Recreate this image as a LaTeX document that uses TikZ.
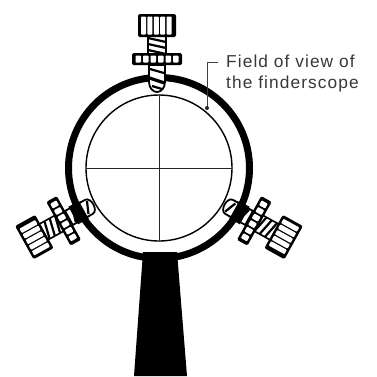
\documentclass[tikz,border=0pt]{standalone}
\usepackage{fontspec}
\setmainfont{Liberation Sans}
\tikzset{
  ringline/.style={draw=black,line width=7pt},
  thinline/.style={draw=black,line width=1.4pt},
  hair/.style={draw=black!85,line width=1pt},
  label/.style={inner sep=0pt,anchor=west,text=black!78,font=\fontsize{17.3}{20}\selectfont\addfontfeature{LetterSpace=6.3}},
  leader/.style={draw=black!75,line width=1pt},
  slot/.style={fill=white,rounded corners=0.8pt},
  thread/.style={draw=black,line width=2.2pt},
}
\newcommand{\thumbscrew}{%
  % lower shaft with rounded tip
  \path[fill=white,draw=black,line width=1.8pt] (-8,-103) -- (-8,-86) .. controls (-8,-80) and (-4,-76) .. (0,-76) .. controls (4,-76) and (8,-80) .. (8,-86) -- (8,-103) -- cycle;
  \draw[thread] (-7,-99) -- (7,-95);
  \draw[thread,line width=3.2pt] (-7.5,-90) -- (7.5,-85);
  \draw[thread] (-5,-82) -- (5,-79);
  % upper shaft
  \path[fill=white,draw=black,line width=1.6pt] (-9,-134) rectangle (9,-113);
  \draw[thread] (-9,-130) -- (9,-126);
  \draw[thread] (-9,-124) -- (9,-120);
  \draw[thread] (-9,-118) -- (9,-114);
  % collar
  \fill[black,rounded corners=1.5pt] (-25,-115) rectangle (25,-103);
  \foreach \x in {-21.5,-14,-6.5,1,8.5,16} {\path[slot] (\x,-112.5) rectangle ++(5.5,7);}
  % knob
  \fill[black,rounded corners=2pt] (-19,-154) rectangle (19,-131);
  \foreach \x in {-16,-9.6,-3.2,3.2,9.6} {\path[slot] (\x,-151.5) rectangle ++(5,18);}
}
\newcommand{\sideband}{%
  \fill[black] (-10,-98) rectangle (10,-86);
  \path[fill=white,draw=black,line width=1.8pt] (-8,-87) -- (-8,-80) .. controls (-8,-77) and (-4,-75) .. (0,-75) .. controls (4,-75) and (8,-77) .. (8,-80) -- (8,-87) -- cycle;
  \draw[thread] (-6,-84) -- (6,-79);
}
\begin{document}
\begin{tikzpicture}[x=1pt,y=-1pt]
  \useasboundingbox (0,0) rectangle (377,376);
  \fill[white] (0,0) rectangle (377,376);
  % post
  \fill[black] (143,252) -- (177,252) -- (187,376) -- (134,376) -- cycle;
  % ring and field of view
  \coordinate (c) at (159,168);
  \path[ringline] (c) circle[radius=90.5];
  \path[thinline,fill=white] (c) circle[radius=73];
  \draw[hair] (159,95) -- (159,241);
  \draw[hair] (86,168) -- (232,168);
  % screws
  \begin{scope}[shift={(157,168)}]\thumbscrew\end{scope}
  \begin{scope}[shift={(159,168)},rotate=119]\thumbscrew\sideband\end{scope}
  \begin{scope}[shift={(159,168)},rotate=-119]\thumbscrew\sideband\end{scope}
  % label
  \node[label] (line1) at (226,61) {Field of view of};
  \node[label] (line2) at (226,84) {the finderscope};
  \coordinate (dot) at (207,108);
  \coordinate (elbow) at (207,62);
  \draw[leader] (line1.west) ++(-8,1) -- (elbow) -- (dot);
  \fill[black!85] (dot) circle[radius=2];
\end{tikzpicture}
\end{document}
